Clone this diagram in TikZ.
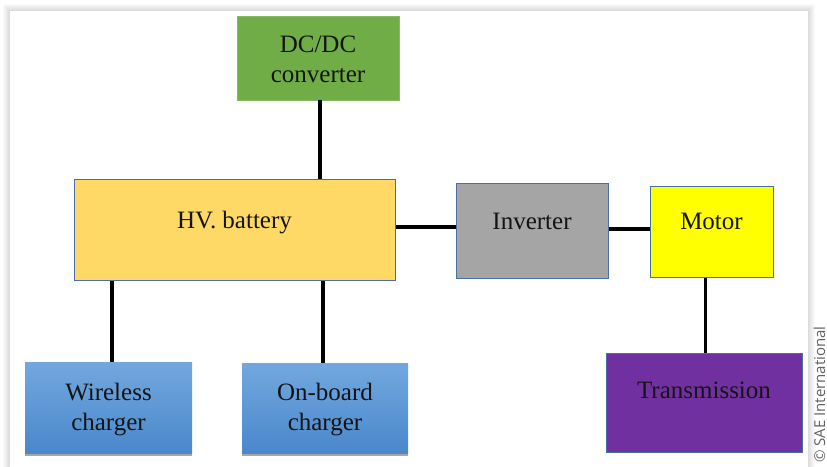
\documentclass[tikz,border=0pt]{standalone}
\usepackage{fontspec}
\setmainfont{Liberation Serif}
\newfontfamily\boxfont{Liberation Serif}
\newfontfamily\saefont{Open Sans}
\usetikzlibrary{shadows,calc}
\definecolor{dcgreen}{HTML}{70AD47}
\definecolor{battyellow}{HTML}{FFD966}
\definecolor{invgray}{HTML}{A5A5A5}
\definecolor{motyellow}{HTML}{FFFF00}
\definecolor{chgtop}{HTML}{72A8DE}
\definecolor{chgbot}{HTML}{4A87CB}
\definecolor{transpurple}{HTML}{7030A0}
\definecolor{edgeblue}{HTML}{4A6FA8}
\tikzset{
  blockbox/.style={rectangle, inner sep=0pt, draw=edgeblue, line width=1pt},
  chargerbox/.style={rectangle, inner sep=0pt, draw=none, shading=axis,
      top color=chgtop, bottom color=chgbot,
      drop shadow={shadow xshift=0pt, shadow yshift=-3pt, opacity=0.35, fill=black}},
  boxtext/.style={font=\boxfont\fontsize{25}{30}\selectfont, align=center, inner sep=0pt, text=black!92},
  oneline/.style={boxtext, text height=17pt, text depth=5pt},
  link/.style={line width=3.2pt, black}
}
\begin{document}
\begin{tikzpicture}[x=1pt,y=-1pt]
\useasboundingbox (0,0) rectangle (827,466);
\clip (0,0) rectangle (827,466);
\fill[white] (0,0) rectangle (827,466);
% card shadow
\foreach \i in {1,...,7} {
  \fill[black, opacity=0.018] (10-\i,11-\i) rectangle (808+\i,470);
}
\fill[white] (10,11) rectangle (808,470);

% boxes
\node[rectangle, inner sep=0pt, fill=dcgreen, draw=dcgreen!85!white, line width=0.6pt,
      minimum width=162pt, minimum height=84pt] (dcdc) at (318,58) {};
\node[blockbox, fill=battyellow, minimum width=321pt, minimum height=101pt] (batt) at (234.5,229.5) {};
\node[blockbox, fill=invgray, minimum width=152pt, minimum height=95pt] (inv) at (532,231) {};
\node[blockbox, fill=motyellow, minimum width=123pt, minimum height=91pt] (mot) at (711.5,231.5) {};
\node[chargerbox, minimum width=167pt, minimum height=91pt] (wl) at (108.5,407.5) {};
\node[chargerbox, minimum width=166pt, minimum height=90pt] (obc) at (325,408) {};
\node[blockbox, fill=transpurple, minimum width=196pt, minimum height=99pt] (trans) at (704,402.5) {};

% labels
\node[boxtext] (dcdct) at ([yshift=-1pt]dcdc.center) {DC/DC\\converter};
\node[oneline] (battt) at ([yshift=7.5pt]batt.center) {HV. battery};
\node[oneline] (invt) at ([yshift=8pt]inv.center) {Inverter};
\node[oneline] (mott) at ([yshift=8.5pt]mot.center) {Motor};
\node[boxtext] (wlt) at ([yshift=-2.5pt]wl.center) {Wireless\\charger};
\node[boxtext] (obct) at ([yshift=-2pt]obc.center) {On-board\\charger};
\node[oneline] (transt) at ([yshift=10.5pt]trans.center) {Transmission};

% connectors
\draw[link] ([xshift=2pt]dcdc.south) -- ([xshift=2pt]dcdc.south |- batt.north);
\draw[link] ([yshift=2.5pt]batt.east) -- ([yshift=2.5pt]batt.east -| inv.west);
\draw[link] ([yshift=2pt]inv.east) -- ([yshift=2pt]inv.east -| mot.west);
\draw[link] ([xshift=-6pt]mot.south) -- ([xshift=-6pt]mot.south |- trans.north);
\draw[link] ([xshift=3.5pt]wl.north) -- ([xshift=3.5pt]wl.north |- batt.south);
\draw[link] ([xshift=-2pt]obc.north) -- ([xshift=-2pt]obc.north |- batt.south);

% copyright
\node[rotate=90, anchor=base east, inner sep=0pt, text=black!62,
      font=\saefont\fontsize{15}{17}\selectfont] (sae) at (825,326) {© SAE International};
\end{tikzpicture}
\end{document}
